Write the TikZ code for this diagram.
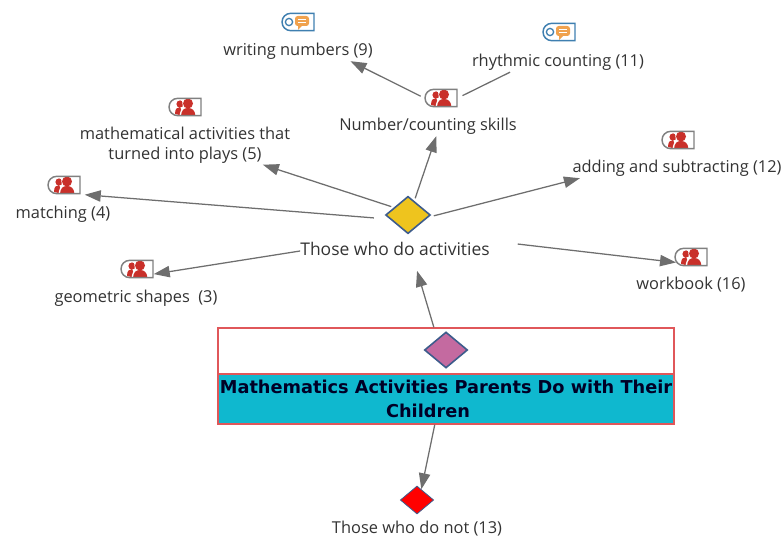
\documentclass[tikz,border=0pt]{standalone}
\usepackage{fontspec}
\setmainfont{Open Sans}
\newfontfamily\titlefont{DejaVu Sans}
\usetikzlibrary{arrows.meta,shapes.geometric,shapes.misc}
\definecolor{linkgray}{HTML}{6E6E6E}
\definecolor{labelgray}{HTML}{333333}
\definecolor{personred}{HTML}{C9302A}
\definecolor{speechblue}{HTML}{3F7FB0}
\definecolor{speechorange}{HTML}{F0A24E}
\definecolor{framered}{HTML}{E0575A}
\definecolor{barteal}{HTML}{0FB8CF}
\definecolor{edgeblue}{HTML}{3D5C8C}
\definecolor{topicpink}{HTML}{C46AA0}
\definecolor{doyellow}{HTML}{EEC41E}
\tikzset{
	link/.style={draw=linkgray, line width=0.95pt, -{Triangle[length=12pt,width=8.5pt]}},
	plainlink/.style={draw=linkgray, line width=0.95pt},
	label/.style={font=\fontsize{12.3}{15}\selectfont, text=labelgray, inner xsep=0pt, inner ysep=1.2pt, text height=9.5pt, text depth=3pt},
	twolines/.style={font=\fontsize{12.3}{15}\selectfont, text=labelgray, inner xsep=0pt, inner ysep=0pt, align=center},
	hub/.style={diamond, draw=edgeblue, line width=1.2pt, inner sep=0pt, minimum width=#1*1.2, minimum height=#1},
	iconbox/.style={rounded rectangle, rounded rectangle east arc=none, line width=1.1pt, inner sep=0pt, minimum width=24pt, minimum height=13pt},
	personicon/.style={iconbox, draw=gray, path picture={
		\begin{scope}[shift={(path picture bounding box.center)}]
			\fill[personred] (-5,-3) circle (3.6);
			\fill[personred] (-10,7) .. controls (-10,2) and (-8,0) .. (-5,0) -- (-1,9) -- cycle;
			\fill[white] (-1,-3) -- (-1,2) -- (-3.5,9) -- (-5.5,9) .. controls (-5,4) and (-3,1) .. (-2,1) -- (-3,-7) -- (-1,-7) -- cycle;
			\fill[personred] (3,-3.5) circle (5);
			\fill[personred] (-4,9) .. controls (-3.5,3) and (-1,1) .. (3,1) .. controls (7,1) and (10,3) .. (10.5,9) -- cycle;
		\end{scope}}},
	speechicon/.style={iconbox, draw=speechblue, path picture={
		\begin{scope}[shift={(path picture bounding box.center)}]
			\draw[speechblue, line width=1pt] (-9,0) circle (3.6);
			\fill[speechorange, rounded corners=2pt] (-3,-6) rectangle (11,4);
			\fill[speechorange] (0,3) -- (0,8) -- (5,3) -- cycle;
			\draw[white, line width=0.5pt] (0,-2.5) -- (8,-2.5) (0,0.5) -- (8,0.5);
		\end{scope}}},
}

\begin{document}
\begin{tikzpicture}[x=0.75pt,y=-0.75pt]
	%%%%% START %%%%%
	\useasboundingbox (0,0) rectangle (782,538);
	
	% main topic
	\node[draw=framered, line width=1pt, minimum width=342pt, minimum height=72pt, inner sep=0pt] (topicbox) at (446,376) {};
	\node[draw=framered, fill=barteal, line width=1pt, minimum width=342pt, minimum height=37.5pt, inner sep=0pt, align=center, font=\titlefont\bfseries\fontsize{13.3}{18}\selectfont, text=black!85!blue] (topicbar) at (446,399) {Mathematics Activities Parents Do with Their\\Children\hspace*{27pt}};
	\node[hub=27pt, fill=topicpink] (topicdiamond) at (446,350) {};
	
	% the two groups
	\node[hub=28pt, fill=doyellow] (dohub) at (408,215) {};
	\node[label, font=\fontsize{13.1}{15}\selectfont] (dolabel) at (395,251) {Those who do activities};
	\node[diamond, fill=red, draw=edgeblue, line width=0.6pt, inner sep=0pt, minimum width=25pt, minimum height=21pt] (nothub) at (417,500) {};
	\node[label] (notlabel) at (417,529) {Those who do not (13)};
	
	% activities
	\node[personicon] (counticon) at (441,98) {};
	\node[label] (countlabel) at (428,126) {Number/counting skills};
	\node[speechicon] (writeicon) at (298,22) {};
	\node[label] (writelabel) at (298,51) {writing numbers (9)};
	\node[speechicon] (rhythmicon) at (559,32) {};
	\node[label] (rhythmlabel) at (558,62) {rhythmic counting (11)};
	\node[personicon] (playicon) at (185,107) {};
	\node[twolines] (playlabel) at (185,145) {mathematical activities that\\turned into plays (5)};
	\node[personicon] (matchicon) at (64,185) {};
	\node[label] (matchlabel) at (63,214) {matching (4)};
	\node[personicon] (shapeicon) at (137,269) {};
	\node[label] (shapelabel) at (136,298) {geometric shapes\ \ (3)};
	\node[personicon] (addicon) at (678,140) {};
	\node[label] (addlabel) at (677,168) {adding and subtracting (12)};
	\node[personicon] (bookicon) at (691,257) {};
	\node[label] (booklabel) at (691,285) {workbook (16)};
	
	% connectors
	\draw[link, shorten >=7.5pt] (topicbox.104) -- (dolabel.-28);
	\draw[link] (topicbox.-103) -- (nothub.68);
	\draw[link, shorten <=2pt] (dohub.66) -- (countlabel.-51);
	\draw[link, shorten <=2pt, shorten >=3pt] (dohub.152) -- (playlabel.-14);
	\draw[link, shorten <=12pt, shorten >=3pt] (dohub.193) -- (matchicon.south east);
	\draw[link, shorten <=4pt] (dohub.-6) -- (addlabel.186);
	\draw[link] (dolabel.west) -- (shapeicon.-17);
	\draw[link, shorten <=21pt] (dolabel.north east) -- (bookicon.200);
	\draw[link, shorten <=3pt] (counticon.west) -- (writelabel.-11);
	\draw[plainlink, shorten <=4pt] (counticon.east) -- (rhythmlabel.192);
	
	%%%%% END %%%%%
\end{tikzpicture}
\end{document}
